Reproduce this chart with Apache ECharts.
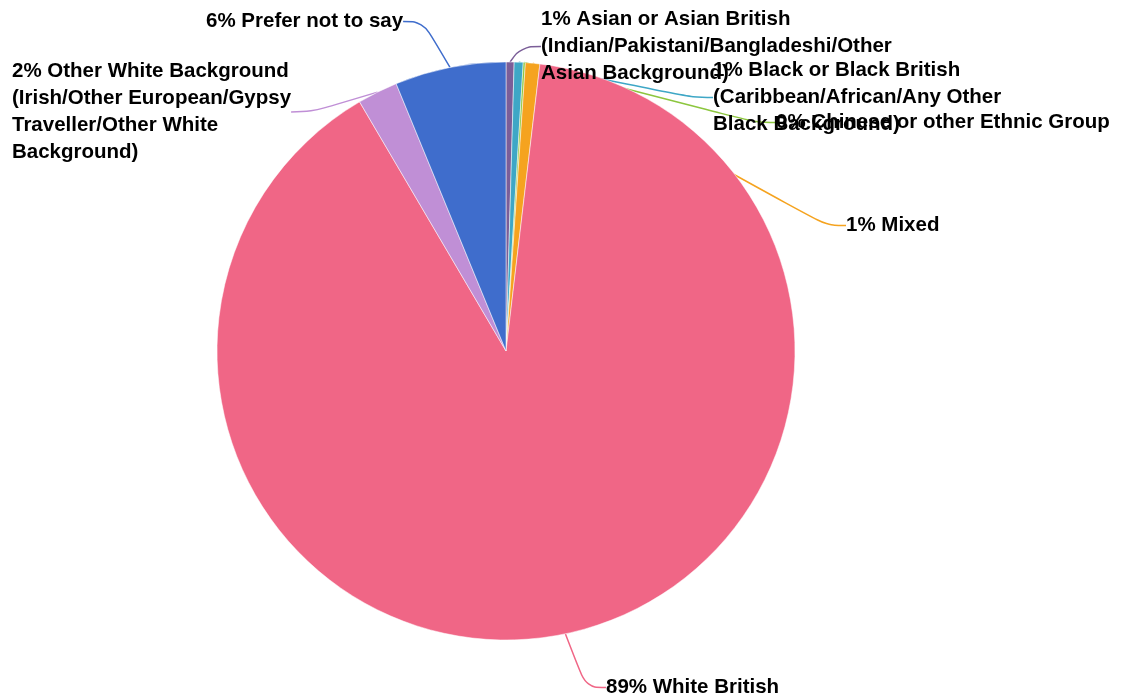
<!DOCTYPE html>
<html>
<head>
<meta charset="utf-8">
<script src="https://cdn.jsdelivr.net/npm/echarts@6/dist/echarts.min.js"></script>
<style>
html,body{margin:0;padding:0;background:#fff;}
#chart{width:1122px;height:698px;}
</style>
</head>
<body>
<div id="chart"></div>
<script>
// 数据
var names = [
  'Asian or Asian British\n(Indian/Pakistani/Bangladeshi/Other\nAsian Background)',
  'Black or Black British\n(Caribbean/African/Any Other\nBlack Background)',
  'Chinese or other Ethnic Group',
  'Mixed',
  'White British',
  'Other White Background\n(Irish/Other European/Gypsy\nTraveller/Other White\nBackground)',
  'Prefer not to say'
];
var values = [0.45, 0.5, 0.12, 0.8, 89.6, 2.25, 6.2];
var pctLabels = ['1%', '1%', '0%', '1%', '89%', '2%', '6%'];
var colors = ['#7b5e98', '#3ea7c6', '#8cc63e', '#f5a31f', '#f06686', '#c08fd6', '#3f6dcc'];

// 标签位置 (左上角)
var labelPos = [
  [541, 6], [713, 57], [776, 109], [846, 212], [606, 674], [12, 58], [206, 8]
];

var data = [];
for (var i = 0; i < names.length; i++) {
  data.push({
    name: names[i],
    value: values[i],
    itemStyle: {color: colors[i]},
    labelLine: {lineStyle: {color: colors[i]}}
  });
}

var myChart = echarts.init(document.getElementById('chart'));

var option = {
  animation: false,
  series: [{
    type: 'pie',
    center: [506, 351],
    radius: 289,
    startAngle: 90,
    clockwise: true,
    data: data,
    itemStyle: {borderColor: '#fff', borderWidth: 0.5},
    label: {
      show: true,
      position: 'outside',
      overflow: 'none',
      formatter: function (p) {
        return pctLabels[p.dataIndex] + ' ' + p.name;
      },
      fontFamily: 'Liberation Sans, Arial, sans-serif',
      fontWeight: 'bold',
      fontSize: 20.5,
      lineHeight: 27,
      color: '#000'
    },
    labelLine: {
      show: true,
      smooth: 0.4,
      length: 14,
      length2: 20,
      lineStyle: {width: 1.5}
    },
    labelLayout: function (p) {
      var pos = labelPos[p.dataIndex];
      return {
        x: pos[0],
        y: pos[1],
        align: 'left',
        verticalAlign: 'top',
        hideOverlap: false,
        moveOverlap: false
      };
    }
  }]
};

myChart.setOption(option);
</script>
</body>
</html>
